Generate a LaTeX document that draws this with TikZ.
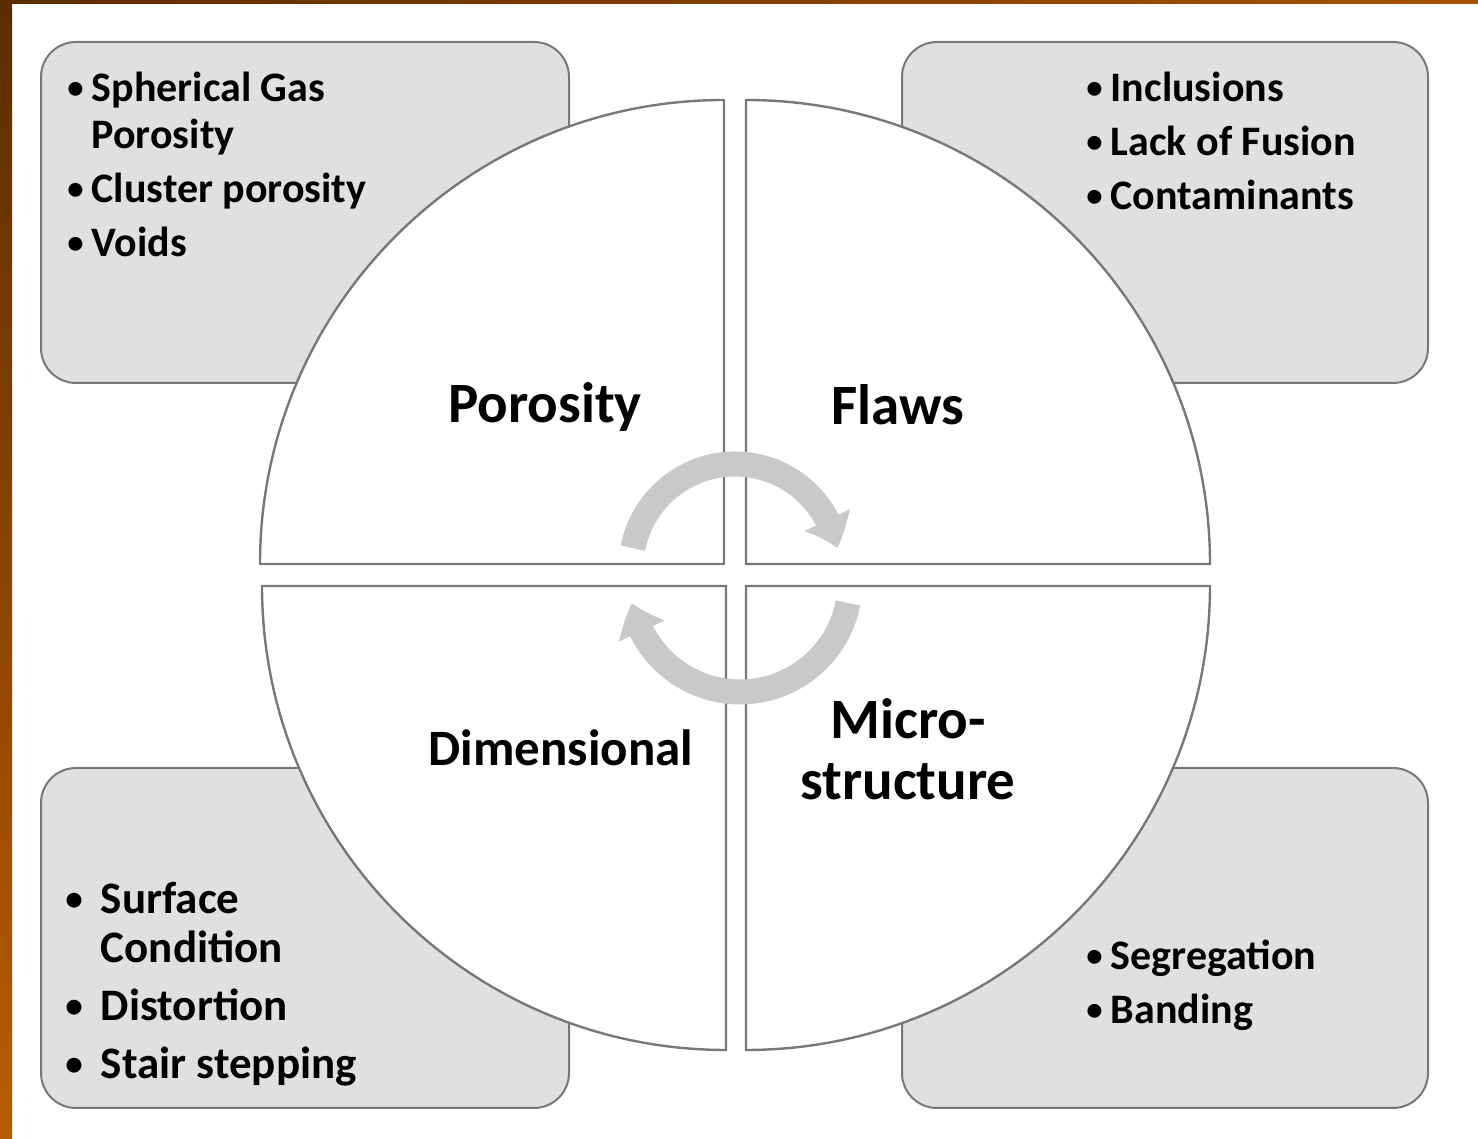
\documentclass[tikz,border=0pt]{standalone}
\usepackage{fontspec}
\setmainfont{Carlito}
\usepackage{tikz}
\usetikzlibrary{arrows.meta,bending}

\definecolor{boxgray}{RGB}{223,224,224}
\definecolor{linegray}{RGB}{120,120,120}
\definecolor{arrowgray}{RGB}{200,201,201}
\definecolor{framedark}{RGB}{92,44,0}
\definecolor{framelight}{RGB}{184,92,0}

% smaller bullet for the item lists
\newcommand{\itembullet}{\raisebox{1.6pt}{\scalebox{0.78}{\textbullet}}}

\begin{document}
\begin{tikzpicture}[x=0.5pt,y=0.5pt,
    sidebox/.style={draw=linegray,line width=1pt,fill=boxgray,rounded corners=17.5pt},
    quarter/.style={draw=linegray,line width=1.2pt,fill=white},
    cycarrow/.style={draw=arrowgray,line width=12.5pt,-{Triangle[width=24pt,length=15pt,bend]}},
    biglabel/.style={font=\fontsize{28.5}{30.5}\selectfont\bfseries,align=center,inner sep=0pt},
    itemlist/.style={font=\fontsize{21}{27}\selectfont\bfseries,anchor=base west,inner sep=0pt}]
    \useasboundingbox (0,0) rectangle (1478,1139);

    % draw frame
    \shade[top color=framedark,bottom color=framelight] (0,0) rectangle (12,1139);
    \shade[left color=framedark,right color=framelight!80!framedark] (0,1135) rectangle (1478,1139);

    % draw side boxes
    \draw[sidebox] (41,756) rectangle (569,1097);
    \draw[sidebox] (902,756) rectangle (1428,1097);
    \draw[sidebox] (41,31) rectangle (569,371);
    \draw[sidebox] (902,31) rectangle (1428,371);

    % draw quarter circles
    \draw[quarter] (724,575) -- (260,575) arc[start angle=180,end angle=90,radius=464] -- cycle;
    \draw[quarter] (746,575) -- (746,1039) arc[start angle=90,end angle=0,radius=464] -- cycle;
    \draw[quarter] (726,553) -- (726,89) arc[start angle=270,end angle=180,radius=464] -- cycle;
    \draw[quarter] (746,553) -- (1210,553) arc[start angle=0,end angle=-90,radius=464] -- cycle;

    % draw cycle arrows
    \coordinate (tophub) at (735,571);
    \coordinate (bothub) at (740,557);
    \draw[cycarrow] (tophub) ++(169:104) arc[start angle=169,end angle=11,radius=104];
    \draw[cycarrow] (bothub) ++(-11:110) arc[start angle=-11,end angle=-169,radius=110];

    % draw quadrant labels
    \node[biglabel] (porosity) at (545,732) {Porosity};
    \node[biglabel] (flaws) at (898,734) {Flaws};
    \node[biglabel,font=\fontsize{25.5}{30}\selectfont\bfseries] (dimensional) at (561,391) {Dimensional};
    \node[biglabel] (micro) at (908,390) {Micro-\\structure};

    % draw item lists
    \node[itemlist] (porlist) at (67,1037) {\begin{tabular}[t]{@{}l@{\hspace{4pt}}l@{}}
        \itembullet & Spherical Gas\\[-3.5pt]
                    & Porosity\\
        \itembullet & Cluster porosity\\
        \itembullet & Voids
    \end{tabular}};
    \node[itemlist] (flawlist) at (1086,1037) {\begin{tabular}[t]{@{}l@{\hspace{4pt}}l@{}}
        \itembullet & Inclusions\\
        \itembullet & Lack of Fusion\\
        \itembullet & Contaminants
    \end{tabular}};
    \node[itemlist,font=\fontsize{22.5}{29}\selectfont\bfseries] (dimlist) at (65,225) {\begin{tabular}[t]{@{}l@{\hspace{9pt}}l@{}}
        \itembullet & Surface\\[-4.5pt]
                    & Condition\\
        \itembullet & Distortion\\
        \itembullet & Stair stepping
    \end{tabular}};
    \node[itemlist] (microlist) at (1086,169) {\begin{tabular}[t]{@{}l@{\hspace{4pt}}l@{}}
        \itembullet & Segregation\\
        \itembullet & Banding
    \end{tabular}};
\end{tikzpicture}
\end{document}
